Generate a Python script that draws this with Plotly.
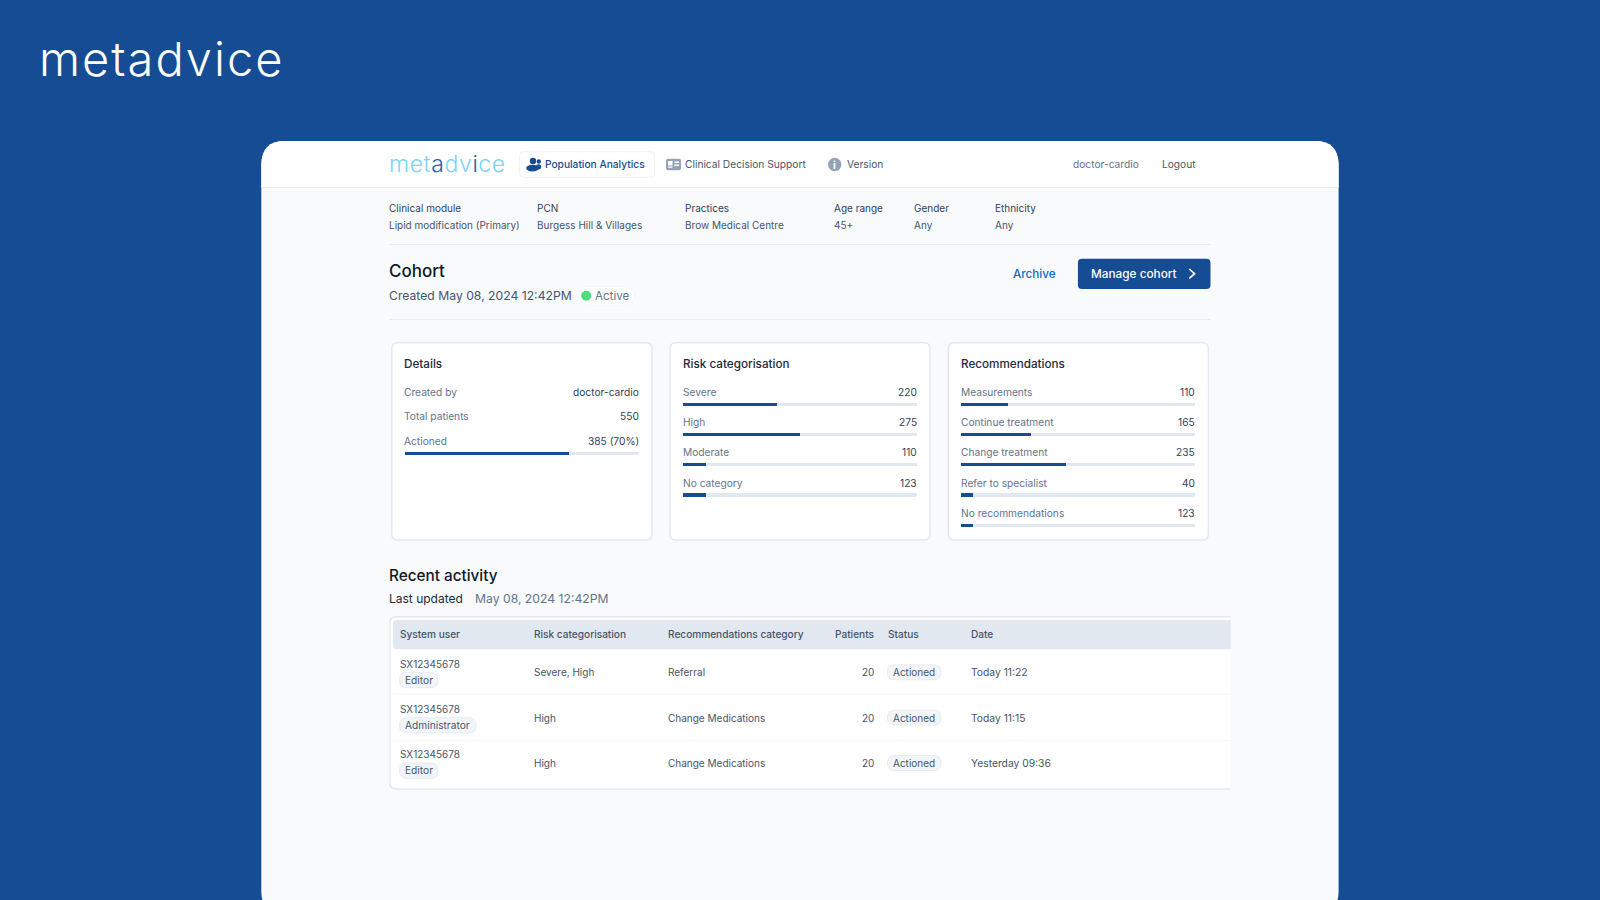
import pandas as pd
import plotly.express as px

W, H = 1600, 900
FONT = "Inter"

BLUE = "#154C94"
TRACK = "#E2E8F0"
PAGE = "#F8FAFC"
LINE = "#E7ECF3"
SLATE_9 = "#0F172A"
SLATE_8 = "#1E293B"
SLATE_7 = "#334155"
SLATE_6 = "#475569"
SLATE_5 = "#64748B"

# filter row
filter_names = ["Clinical module", "PCN", "Practices", "Age range", "Gender", "Ethnicity"]
filter_values = ["Lipid modification (Primary)", "Burgess Hill & Villages", "Brow Medical Centre", "45+", "Any", "Any"]

# details card
detail_labels = ["Created by", "Total patients"]
detail_values = ["doctor-cardio", "550"]
actioned_label = ["Actioned"]
actioned_text = ["385 (70%)"]
actioned_share = [70]

# risk card
risk_labels = ["Severe", "High", "Moderate", "No category"]
risk_counts = [220, 275, 110, 123]
risk_share = [40, 50, 10, 10]  # bar length does not follow the count in the original

# recommendations card
rec_labels = ["Measurements", "Continue treatment", "Change treatment", "Refer to specialist", "No recommendations"]
rec_counts = [110, 165, 235, 40, 123]
rec_share = [20, 30, 45, 5, 5]

# recent activity table
table_headers = ["System user", "Risk categorisation", "Recommendations category", "Patients", "Status", "Date"]
row_users = ["SX12345678", "SX12345678", "SX12345678"]
row_roles = ["Editor", "Administrator", "Editor"]
row_risks = ["Severe, High", "High", "High"]
row_recs = ["Referral", "Change Medications", "Change Medications"]
row_patients = [20, 20, 20]
row_status = ["Actioned", "Actioned", "Actioned"]
row_dates = ["Today 11:22", "Today 11:15", "Yesterday 09:36"]


def _px(x, y):
    # screen pixels -> paper fractions
    return x / W, 1 - y / H


def _rrect(x0, y0, x1, y1, r, fill, line=None, line_width=1, corners=(1, 1, 1, 1)):
    """Rounded rectangle as an svg path, corners = tl, tr, br, bl."""
    pts = []
    tl, tr, br, bl = [r * c for c in corners]
    def p(x, y):
        a, b = _px(x, y)
        return f"{a:.5f},{b:.5f}"
    pts.append("M" + p(x0 + tl, y0))
    pts.append("L" + p(x1 - tr, y0))
    pts.append("Q" + p(x1, y0) + " " + p(x1, y0 + tr))
    pts.append("L" + p(x1, y1 - br))
    pts.append("Q" + p(x1, y1) + " " + p(x1 - br, y1))
    pts.append("L" + p(x0 + bl, y1))
    pts.append("Q" + p(x0, y1) + " " + p(x0, y1 - bl))
    pts.append("L" + p(x0, y0 + tl))
    pts.append("Q" + p(x0, y0) + " " + p(x0 + tl, y0) + "Z")
    return dict(type="path", xref="paper", yref="paper", layer="below", path=" ".join(pts),
                fillcolor=fill, line=dict(color=line or fill, width=line_width if line else 0))


def _hline(x0, x1, y, color=LINE, width=1.2):
    a, b = _px(x0, y)
    c, _ = _px(x1, y)
    return dict(type="line", xref="paper", yref="paper", layer="below", x0=a, x1=c, y0=b, y1=b,
                line=dict(color=color, width=width))


def _dot(cx, cy, rx, ry, fill):
    a, b = _px(cx - rx, cy - ry)
    c, d = _px(cx + rx, cy + ry)
    return dict(type="circle", xref="paper", yref="paper", layer="below", x0=a, x1=c, y0=b, y1=d,
                fillcolor=fill, line=dict(width=0))


def _poly(points, fill=None, line=None, width=1.5):
    # open or closed polyline through pixel points
    d = []
    for i, (x, y) in enumerate(points):
        a, b = _px(x, y)
        d.append(("M" if i == 0 else "L") + f"{a:.5f},{b:.5f}")
    path = " ".join(d) + ("Z" if fill else "")
    return dict(type="path", xref="paper", yref="paper", layer="above", path=path,
                fillcolor=fill or "rgba(0,0,0,0)", line=dict(color=line or "rgba(0,0,0,0)", width=width if line else 0))


def _txt(x, y, s, size=10.2, color=SLATE_6, anchor="left", weight=400):
    # annotations sit about a pixel inside their anchor
    nudge = {"left": -1.3, "right": 1.0, "center": 0}[anchor]
    a, b = _px(x + nudge, y)
    return dict(xref="paper", yref="paper", x=a, y=b, text=s, showarrow=False, xanchor=anchor, yanchor="middle",
                borderpad=0, font=dict(family=FONT, size=size, color=color, weight=weight))


def _axis_txt(axis, x, label, s, shift, color, anchor, nudge=None):
    # text tied to a bar row of a card
    if nudge is None:
        nudge = -1.0 if anchor == "left" else 1.0
    return dict(xref=f"x{axis}", yref=f"y{axis}", x=x, y=label, text=s, showarrow=False, xanchor=anchor,
                yanchor="middle", yshift=shift, xshift=nudge, borderpad=0,
                font=dict(family=FONT, size=10.2, color=color))


def _bar_frame():
    rows = []
    panels = [("Details", actioned_label, actioned_share),
              ("Risk", risk_labels, risk_share),
              ("Recommendations", rec_labels, rec_share)]
    for panel, labels, shares in panels:
        for label in labels:
            rows.append({"Panel": panel, "Label": label, "Layer": "track", "Share": 100})
    for panel, labels, shares in panels:
        for label, share in zip(labels, shares):
            rows.append({"Panel": panel, "Label": label, "Layer": "value", "Share": share})
    return pd.DataFrame(rows)


def build_figure():
    """
    Cohort screen: bars are real traces in three facets, the rest of the page is shapes and text.
    """
    df = _bar_frame()
    fig = px.bar(df, x="Share", y="Label", color="Layer", facet_col="Panel", orientation="h", barmode="overlay",
                 opacity=1, color_discrete_map={"track": TRACK, "value": BLUE})
    fig.update_traces(width=0.11, marker_cornerradius=2, marker_line_width=0, hoverinfo="skip", showlegend=False)
    fig.layout.annotations = ()

    row_h = 30.33
    fig.update_xaxes(matches=None, visible=False, range=[0, 100])
    fig.update_yaxes(matches=None, visible=False)
    # bar tracks of the three cards, in pixels
    card_x = [(404.6, 639.0), (682.9, 917.2), (961.0, 1195.3)]
    first_y = [452.7, 404.0, 404.0]
    counts = [len(actioned_label), len(risk_labels), len(rec_labels)]
    for i in range(3):
        suffix = "" if i == 0 else str(i + 1)
        top = first_y[i] - row_h / 2
        bottom = top + row_h * counts[i]
        fig.layout["xaxis" + suffix].domain = (card_x[i][0] / W, card_x[i][1] / W)
        fig.layout["yaxis" + suffix].domain = (1 - bottom / H, 1 - top / H)
        fig.layout["yaxis" + suffix].range = (counts[i] - 0.5, -0.5)

    shapes = []
    notes = []

    # page and white sheet
    shapes.append(_rrect(0, 0, W, H, 0, BLUE))
    shapes.append(_rrect(261.3, 141, 1338.6, 915, 24, PAGE))
    shapes.append(_rrect(261.3, 141, 1338.6, 187.5, 24, "#FFFFFF", corners=(1, 1, 0, 0)))
    shapes.append(_hline(261.3, 1338.6, 187.5))

    # logos
    notes.append(_txt(39.5, 58.5, '<span style="letter-spacing:2px">metadvice</span>', 47, "#FFFFFF", weight=300))
    notes.append(_txt(389.5, 164, '<span style="letter-spacing:0.6px"><span style="color:#7DD3F5">met</span>'
                                  '<span style="color:#2C5FA3">a</span>'
                                  '<span style="color:#7DD3F5">dv</span><span style="color:#2C5FA3">i</span>'
                                  '<span style="color:#7DD3F5">ce</span></span>', 23, "#7DD3F5", weight=300))

    # header tabs
    shapes.append(_rrect(519.4, 151.7, 654.6, 177.3, 5, "#FFFFFF", "#EEF1F6", 1))
    shapes.append(_dot(533, 161, 3.2, 3.2, BLUE))
    shapes.append(_dot(538.8, 161.5, 2.2, 2.2, BLUE))
    shapes.append(_dot(532.5, 168.2, 6.3, 3.4, BLUE))
    shapes.append(_dot(538.6, 166.8, 2.6, 2.6, BLUE))
    notes.append(_txt(545.4, 164, "Population Analytics", 10.2, BLUE, weight=500))
    shapes.append(_rrect(666, 158.7, 681, 170.3, 2, "#94A3B8"))
    shapes.append(_rrect(668, 161, 672.5, 165.5, 0.5, "#FFFFFF"))
    shapes.append(_rrect(668, 166.4, 672.5, 167.8, 0.3, "#FFFFFF"))
    shapes.append(_rrect(674.2, 161.5, 679, 162.9, 0.3, "#FFFFFF"))
    shapes.append(_rrect(674.2, 164.5, 679, 165.9, 0.3, "#FFFFFF"))
    notes.append(_txt(685.2, 164, "Clinical Decision Support", 10.2, SLATE_6))
    shapes.append(_dot(834.7, 164.5, 6.7, 6.7, "#94A3B8"))
    notes.append(_txt(834.7, 165, "i", 10, "#FFFFFF", "center", 700))
    notes.append(_txt(847, 164, "Version", 10.2, SLATE_6))
    notes.append(_txt(1073.7, 164, "doctor-cardio", 10.2, SLATE_5))
    notes.append(_txt(1162.3, 164, "Logout", 10.2, SLATE_6))

    # filter row
    filter_x = [389.3, 537.7, 685.7, 834, 914.7, 995.4]
    for x, name, value in zip(filter_x, filter_names, filter_values):
        notes.append(_txt(x, 208, name, 10, SLATE_7))
        notes.append(_txt(x, 224.8, value, 10, SLATE_6))
    shapes.append(_hline(389.3, 1210.5, 244.5))

    # title block
    notes.append(_txt(389.3, 270.7, "Cohort", 17, SLATE_9, weight=450))
    notes.append(_txt(389.3, 295.7, "Created May 08, 2024 12:42PM", 12.2, SLATE_6))
    shapes.append(_rrect(577.5, 286.7, 634, 305, 9, "#FFFFFF", "#F1F4F8", 0.8))
    shapes.append(_dot(586.2, 295.7, 5, 5, "#4ADE80"))
    notes.append(_txt(595.5, 295.7, "Active", 11.6, SLATE_5))
    shapes.append(_hline(389.3, 1210.5, 319.5))

    # buttons
    notes.append(_txt(1013, 273.7, "Archive", 11.7, "#0B6CBF", weight=450))
    shapes.append(_rrect(1077.9, 258.7, 1210.5, 289, 4, BLUE))
    notes.append(_txt(1091.2, 273.7, "Manage cohort", 11.8, "#FFFFFF", weight=450))
    shapes.append(_poly([(1189.3, 269), (1194.6, 273.7), (1189.3, 278.4)], line="#FFFFFF", width=1.6))

    # cards
    card_edges = [(391.8, 652), (670, 930), (948.3, 1208.3)]
    for x0, x1 in card_edges:
        shapes.append(_rrect(x0, 342.7, x1, 540, 6, "#FFFFFF", "#E3E9F2", 1.5))
    notes.append(_txt(404.6, 364, "Details", 11.7, SLATE_8, weight=450))
    notes.append(_txt(682.9, 364, "Risk categorisation", 11.7, SLATE_8, weight=450))
    notes.append(_txt(961, 364, "Recommendations", 11.7, SLATE_8, weight=450))

    for y, label, value in zip([392.2, 416.5], detail_labels, detail_values):
        notes.append(_txt(404.6, y, label, 10.2, SLATE_5))
        notes.append(_txt(639, y, value, 10.2, SLATE_7, "right"))
    for label, value in zip(actioned_label, actioned_text):
        notes.append(_axis_txt("", 0, label, label, 11.5, SLATE_5, "left", -1.5))
        notes.append(_axis_txt("", 100, label, value, 11.5, SLATE_7, "right"))
    for label, count in zip(risk_labels, risk_counts):
        notes.append(_axis_txt("2", 0, label, label, 12.2, SLATE_5, "left"))
        notes.append(_axis_txt("2", 100, label, str(count), 12.2, SLATE_7, "right"))
    for label, count in zip(rec_labels, rec_counts):
        notes.append(_axis_txt("3", 0, label, label, 12.2, SLATE_5, "left"))
        notes.append(_axis_txt("3", 100, label, str(count), 12.2, SLATE_7, "right"))

    # recent activity
    notes.append(_txt(389.3, 575.4, "Recent activity", 15.3, SLATE_9, weight=450))
    notes.append(_txt(389.3, 598.5, "Last updated", 12, SLATE_8))
    notes.append(_txt(475.7, 598.5, "May 08, 2024 12:42PM", 12.2, SLATE_5))

    # table frame, open on its right side like the crop in the original
    shapes.append(_rrect(390, 616.7, 1230.7, 789, 8, "#FFFFFF", None, 0, corners=(1, 0, 0, 1)))
    shapes.append(_hline(396, 1230.7, 616.7, "#E3E9F2", 1.4))
    shapes.append(_hline(396, 1230.7, 789, "#E3E9F2", 1.4))
    shapes.append(_rrect(390, 616.7, 398, 789, 6, "rgba(0,0,0,0)", "#E3E9F2", 1.4, corners=(1, 0, 0, 1)))
    shapes.append(_rrect(391, 618, 399, 788, 6, "#FFFFFF", corners=(1, 0, 0, 1)))
    shapes.append(_rrect(392.9, 620, 1230.7, 649.3, 4, TRACK, corners=(1, 0, 0, 1)))
    shapes.append(_hline(393, 1230.7, 694.3, "#F4F6FA", 1))
    shapes.append(_hline(393, 1230.7, 740.3, "#F4F6FA", 1))

    col_x = [400.6, 534.3, 668.6, 873.6, 888.5, 971.7]
    for i, head in enumerate(table_headers):
        anchor = "right" if head == "Patients" else "left"
        notes.append(_txt(col_x[i], 634.2, head, 10.1, SLATE_6, anchor, 450))

    mid_y = [672.3, 717.6, 763]
    for i, y in enumerate(mid_y):
        notes.append(_txt(col_x[0], y - 8.6, row_users[i], 10, SLATE_6))
        pill_r = 437.9 if row_roles[i] == "Editor" else 476
        shapes.append(_rrect(399.6, y, pill_r, y + 15.4, 7, "#F1F5F9", "#E2E8F0", 0.8))
        notes.append(_txt(405.6, y + 7.4, row_roles[i], 10.2, SLATE_6))
        notes.append(_txt(col_x[1], y, row_risks[i], 10, SLATE_6))
        notes.append(_txt(col_x[2], y, row_recs[i], 10, SLATE_6))
        notes.append(_txt(col_x[3], y, str(row_patients[i]), 10, SLATE_6, "right"))
        shapes.append(_rrect(887.5, y - 7.5, 941, y + 7.5, 7, "#F1F5F9", "#E2E8F0", 0.8))
        notes.append(_txt(893.7, y, row_status[i], 10, SLATE_6))
        notes.append(_txt(col_x[5], y, row_dates[i], 10.3, SLATE_6))

    fig.update_layout(width=W, height=H, margin=dict(l=0, r=0, t=0, b=0), showlegend=False, hovermode=False,
                      paper_bgcolor=BLUE, plot_bgcolor="rgba(0,0,0,0)", bargap=0,
                      shapes=shapes, annotations=notes)
    return fig


fig = build_figure()
fig.write_html("out.html", config={"displayModeBar": False},
               post_script="document.body.style.margin='0';document.documentElement.style.overflow='hidden';")
